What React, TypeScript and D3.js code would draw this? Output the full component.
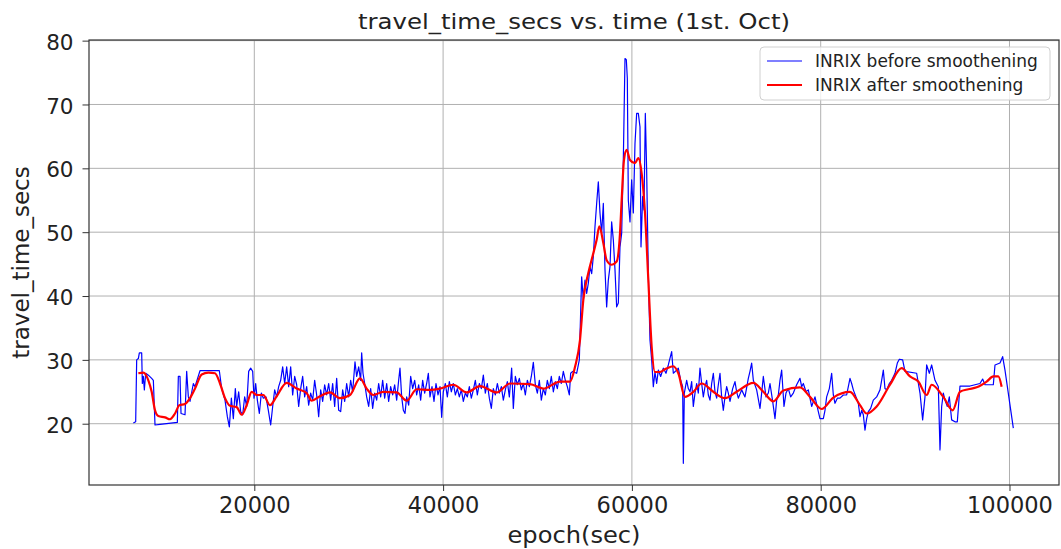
import React, { useEffect, useRef } from "react";
import * as d3 from "d3";

const width = 1061;
const height = 549;
const margin = { top: 40, right: 2, bottom: 64, left: 89 };

const xTicks = [20000, 40000, 60000, 80000, 100000];
const yTicks = [20, 30, 40, 50, 60, 70, 80];
const seriesNames = ["INRIX before smoothening", "INRIX after smoothening"];

// [epoch(sec), travel_time_secs]
const beforeSmoothing: [number, number][] = [
  [7186, 20.1], [7434, 20.3], [7540, 30.0], [7716, 30.2], [7822, 31.1], [8069, 31.1], [8140, 26.3], [8246, 27.4],
  [8352, 25.3], [8493, 27.9], [8775, 27.6], [9128, 27.1], [9305, 26.8], [9481, 19.8], [10011, 19.9], [11847, 20.2],
  [11953, 27.4], [12130, 27.4], [12236, 21.6], [12660, 21.4], [12836, 28.2], [13013, 24.2], [13189, 23.5], [13542, 26.3],
  [13719, 25.8], [14248, 28.3], [16296, 28.3], [16543, 25.5], [16897, 23.7], [17144, 21.1], [17356, 19.5], [17568, 24.0],
  [17780, 20.8], [17991, 25.5], [18132, 22.7], [18345, 25.0], [18556, 21.9], [18768, 21.4], [18980, 24.2], [19192, 22.7],
  [19404, 28.2], [19615, 28.7], [19827, 28.2], [19969, 24.0], [20145, 26.3], [20322, 23.7], [20534, 21.6], [20746, 24.8],
  [20958, 24.0], [21240, 24.2], [21487, 22.1], [21734, 19.8], [21946, 22.7], [22158, 25.3], [22370, 24.2], [22582, 25.8],
  [22794, 26.8], [23005, 28.9], [23217, 26.3], [23429, 28.9], [23641, 25.8], [23853, 28.9], [24064, 24.5], [24276, 27.4],
  [24488, 26.1], [24700, 22.7], [24912, 25.5], [25124, 27.4], [25336, 24.2], [25547, 25.8], [25759, 22.9], [25971, 24.8],
  [26183, 23.7], [26395, 26.8], [26607, 24.5], [26818, 21.1], [27030, 25.3], [27242, 23.5], [27454, 26.1], [27666, 24.5],
  [27878, 26.3], [28089, 23.7], [28302, 26.3], [28513, 22.7], [28725, 27.1], [28937, 22.1],
  [29149, 21.9], [29361, 25.3], [29573, 23.5], [29785, 26.3], [29996, 24.2], [30208, 26.8], [30420, 25.0], [30667, 29.7],
  [30844, 27.4], [31056, 28.9], [31267, 26.8], [31373, 31.1], [31515, 27.9], [31691, 26.3], [31903, 24.2], [32115, 22.7],
  [32327, 25.5], [32539, 22.4], [32751, 24.8], [32962, 23.7], [33174, 26.3], [33386, 24.2], [33598, 26.8], [33810, 24.0],
  [34022, 26.3], [34233, 23.5], [34445, 25.8], [34657, 24.5], [34869, 26.1], [35081, 23.7], [35293, 26.8], [35434, 28.7],
  [35611, 24.2], [35787, 22.1], [35964, 21.6], [36140, 24.2], [36352, 22.9], [36564, 27.4], [36776, 25.5], [36988, 26.8],
  [37200, 24.5], [37411, 26.1], [37623, 23.7], [37835, 26.8], [38047, 24.8], [38259, 26.3], [38436, 27.9], [38612, 24.2],
  [38824, 25.8], [39036, 23.5], [39248, 26.3], [39460, 24.5], [39671, 25.8], [39848, 21.0], [40024, 25.0], [40236, 26.3],
  [40448, 24.2], [40660, 26.6], [40872, 25.0], [41084, 26.3], [41296, 24.5], [41507, 25.5], [41719, 24.2], [41931, 25.3],
  [42143, 23.5], [42355, 24.8], [42567, 24.2], [42779, 25.8], [42990, 24.0], [43202, 25.3], [43414, 26.8], [43626, 24.5],
  [43838, 26.3], [44050, 25.5], [44262, 27.6], [44473, 24.8], [44685, 26.3], [44897, 24.0], [45109, 22.4], [45321, 25.5],
  [45533, 24.5], [45745, 26.3], [45956, 24.8], [46168, 25.8], [46380, 23.7], [46592, 25.3], [46804, 26.6], [47016, 24.2],
  [47263, 28.7], [47439, 22.4], [47651, 27.4], [47863, 26.1], [48075, 27.1], [48287, 25.3], [48499, 26.3], [48711, 24.5],
  [48922, 26.8], [49134, 25.8], [49346, 27.4], [49558, 29.6], [49770, 26.1], [49982, 24.8], [50194, 26.8], [50405, 23.7],
  [50617, 25.5], [50829, 24.5], [51041, 26.8], [51253, 25.5], [51465, 27.4], [51677, 25.0], [51889, 26.6], [52100, 25.5],
  [52312, 27.4], [52524, 26.3], [52736, 28.2], [52948, 26.8], [53159, 25.8], [53371, 24.5], [53513, 27.9], [53724, 28.2],
  [53795, 28.1], [54148, 27.9], [54431, 30.0], [54678, 43.0], [54854, 39.4], [55031, 42.5], [55207, 40.4], [55384, 42.0],
  [55561, 44.6], [55737, 43.5], [55914, 46.2], [56090, 50.9], [56267, 54.5], [56443, 57.9], [56620, 53.0], [56797, 49.8],
  [56973, 54.5], [57150, 44.1], [57326, 38.3], [57503, 42.5], [57679, 44.6], [57856, 51.6], [58032, 48.8], [58209, 44.1],
  [58385, 38.3], [58562, 38.9], [58738, 47.7], [58915, 49.8], [59092, 61.3], [59268, 77.2], [59410, 77.0], [59515, 74.1],
  [59621, 55.0], [59798, 51.6], [59974, 58.2], [60151, 53.0], [60327, 63.9], [60504, 68.6], [60680, 68.6], [60857, 66.5],
  [60963, 47.7], [61140, 55.6], [61281, 53.5], [61423, 68.6], [61563, 59.7], [61740, 43.5], [61916, 33.1], [62093, 30.0],
  [62270, 25.8], [62446, 28.1], [62623, 26.3], [62800, 28.4], [63046, 27.4], [63329, 28.7], [63611, 27.9], [63858, 29.2],
  [64212, 31.3], [64388, 27.9], [64741, 28.4],
  [64918, 28.7], [65165, 26.8], [65377, 25.8], [65448, 13.8], [65554, 24.8], [65801, 26.8], [65977, 25.5], [66154, 25.0],
  [66331, 26.6], [66507, 22.7], [66684, 24.8], [66860, 26.3], [67037, 24.8], [67213, 28.7], [67390, 26.3], [67566, 24.2],
  [67743, 25.8], [67919, 26.8], [68096, 24.5], [68273, 23.7], [68449, 26.3], [68626, 27.9], [68802, 25.0], [68979, 24.0],
  [69155, 26.1], [69332, 27.9], [69508, 24.2], [69685, 22.1], [69861, 24.2], [70038, 25.8], [70215, 24.8], [70391, 23.5],
  [70674, 25.5], [70921, 26.6], [71097, 25.0], [71274, 24.0], [71627, 25.3], [71980, 24.2], [72333, 27.1], [72510, 28.2],
  [72686, 29.5], [72863, 26.8], [73216, 25.3], [73569, 22.4], [73746, 24.8], [73922, 27.4], [74205, 24.2], [74452, 24.8],
  [74628, 26.3], [74911, 23.5], [75158, 20.8], [75335, 23.7], [75511, 24.5], [75688, 26.8], [75864, 28.4], [76111, 22.7],
  [76323, 24.8], [76570, 25.5], [76818, 24.2], [77100, 24.8], [77453, 26.1], [77806, 27.1], [77983, 25.8], [78159, 26.3],
  [78442, 25.0], [78689, 25.3], [79042, 22.7], [79395, 24.2], [79748, 21.9], [79925, 20.8], [80278, 20.8], [80455, 22.1],
  [80631, 24.2], [80914, 25.5], [81161, 27.9], [81337, 24.5], [81514, 23.2], [81761, 24.0], [82043, 24.0], [82396, 24.5],
  [82750, 24.5], [82926, 25.8], [83103, 27.1], [83279, 26.3], [83456, 25.3], [83738, 24.2], [83985, 23.2], [84162, 21.1],
  [84339, 22.1], [84515, 21.4], [84692, 19.0], [84868, 20.8], [85045, 21.9], [85292, 22.4], [85574, 23.7], [85928, 24.2],
  [86281, 25.3], [86457, 26.8], [86634, 28.4], [86811, 25.5], [86987, 25.3], [87270, 26.3], [87517, 26.8], [87870, 27.9],
  [88117, 29.5], [88329, 30.1], [88682, 30.0], [88929, 28.2], [90165, 27.9], [90518, 24.8], [90801, 20.6], [91048, 24.2],
  [91224, 29.2], [91507, 27.9], [91754, 29.2], [92107, 26.8], [92460, 25.8], [92637, 15.9], [92813, 22.7], [92990, 24.8],
  [93167, 23.7], [93414, 22.7], [93625, 24.2], [93872, 20.6], [94225, 20.3], [94473, 20.3], [94755, 25.9], [95815, 25.9],
  [96874, 26.3], [97156, 27.0], [97403, 26.1], [98286, 26.1], [98463, 29.2], [98992, 29.5], [99275, 30.5], [99522, 28.4],
  [100405, 19.3],
];

const afterSmoothing: [number, number][] = [
  [7716, 27.9], [8246, 28.0], [8775, 26.8], [9128, 25.0], [9481, 22.1], [9835, 21.2], [10541, 21.0], [11070, 20.7],
  [11600, 21.6], [12059, 22.9], [12660, 23.1], [13189, 24.0], [13719, 25.5], [14425, 27.7], [15131, 28.0], [15838, 27.9],
  [16367, 26.3], [16897, 24.0], [17426, 22.8], [18132, 22.6], [18662, 21.4], [19192, 22.9], [19722, 25.0], [20251, 24.5],
  [20958, 24.5], [21663, 22.9], [22370, 24.3], [23429, 26.4], [24488, 25.5], [25547, 24.8], [26077, 23.6], [26960, 24.3],
  [28019, 24.9], [29078, 24.0], [30138, 24.5], [31197, 27.1], [31903, 25.5], [32609, 24.5], [33669, 25.0], [35081, 24.9],
  [36140, 23.6], [37200, 25.4], [38612, 25.3], [39671, 25.5], [41084, 26.1], [42496, 24.9], [43909, 25.9], [45674, 24.9],
  [47086, 26.3], [49205, 26.2], [50617, 25.5], [52383, 26.6], [53442, 26.6], [53972, 28.9], [54501, 33.1], [54854, 39.4],
  [55384, 43.6], [55914, 46.7], [56267, 48.8], [56549, 50.9], [56973, 48.3], [57326, 45.6], [57856, 44.9], [58385, 45.4],
  [58738, 49.8], [58915, 55.0], [59162, 61.3], [59445, 62.9], [59798, 61.3], [60327, 60.8], [60680, 61.6], [61034, 59.2],
  [61387, 53.0], [61740, 42.5], [62093, 32.1], [62446, 28.1], [62976, 28.1], [63600, 28.6], [64388, 29.0], [64918, 27.9],
  [65624, 24.2], [66507, 25.0], [67390, 26.3], [68626, 25.0], [69861, 24.0], [71097, 25.0], [72863, 26.4], [73922, 25.0],
  [74981, 23.5], [76041, 25.2], [77806, 25.7], [78866, 24.2], [80101, 22.3], [81337, 24.1], [83103, 25.0], [84162, 22.9],
  [84868, 21.6], [85928, 22.7], [87340, 26.1], [88576, 28.7], [89459, 27.4], [90341, 26.6], [91224, 24.5], [91754, 26.1],
  [92990, 24.2], [93978, 22.1], [94755, 25.0], [95638, 25.4], [96521, 25.7], [97580, 26.6], [98286, 27.4], [98816, 27.4],
  [99169, 25.8],
];

const font = "'DejaVu Sans', sans-serif";

export default function App() {
  const ref = useRef<SVGSVGElement>(null);

  useEffect(() => {
    const svg = d3.select(ref.current);
    svg.selectAll("*").remove();

    const x = d3
      .scaleLinear()
      .domain([2489, 105244])
      .range([margin.left, width - margin.right]);
    const y = d3
      .scaleLinear()
      .domain([10.4, 80.1])
      .range([height - margin.bottom, margin.top]);

    const top = margin.top;
    const bottom = height - margin.bottom;
    const left = margin.left;
    const right = width - margin.right;

    svg
      .append("defs")
      .append("clipPath")
      .attr("id", "plot-clip")
      .append("rect")
      .attr("x", left)
      .attr("y", top)
      .attr("width", right - left)
      .attr("height", bottom - top);

    // grid
    const grid = svg.append("g").attr("stroke", "#b0b0b0").attr("stroke-width", 1);
    grid
      .selectAll(".vgrid")
      .data(xTicks)
      .join("line")
      .attr("x1", (d) => x(d))
      .attr("x2", (d) => x(d))
      .attr("y1", top)
      .attr("y2", bottom);
    grid
      .selectAll(".hgrid")
      .data(yTicks)
      .join("line")
      .attr("x1", left)
      .attr("x2", right)
      .attr("y1", (d) => y(d))
      .attr("y2", (d) => y(d));

    const line = d3
      .line<[number, number]>()
      .x((d) => x(d[0]))
      .y((d) => y(d[1]));

    const plot = svg.append("g").attr("clip-path", "url(#plot-clip)");
    plot
      .append("path")
      .datum(beforeSmoothing)
      .attr("fill", "none")
      .attr("stroke", "#0000ff")
      .attr("stroke-width", 1.2)
      .attr("stroke-linejoin", "round")
      .attr("d", line);
    plot
      .append("path")
      .datum(afterSmoothing)
      .attr("fill", "none")
      .attr("stroke", "#ff0000")
      .attr("stroke-width", 2.2)
      .attr("stroke-linejoin", "round")
      .attr("d", line.curve(d3.curveMonotoneX));

    // axes
    const xAxis = svg
      .append("g")
      .attr("transform", `translate(0,${bottom})`)
      .call(d3.axisBottom(x).tickValues(xTicks).tickFormat(d3.format("d")).tickSize(6).tickPadding(6));
    xAxis.select(".domain").remove();
    xAxis.selectAll("line").attr("stroke", "#333");
    xAxis.selectAll("text").attr("font-family", font).attr("font-size", 22.5).attr("fill", "#222");

    const yAxis = svg
      .append("g")
      .attr("transform", `translate(${left},0)`)
      .call(d3.axisLeft(y).tickValues(yTicks).tickSize(6.5).tickPadding(9));
    yAxis.select(".domain").remove();
    yAxis.selectAll("line").attr("stroke", "#333");
    yAxis
      .selectAll("text")
      .attr("font-family", font)
      .attr("font-size", 21.5)
      .attr("fill", "#222")
      .attr("dy", "0.4em");

    // spines
    svg
      .append("rect")
      .attr("x", left)
      .attr("y", top)
      .attr("width", right - left)
      .attr("height", bottom - top)
      .attr("fill", "none")
      .attr("stroke", "#333")
      .attr("stroke-width", 1.2);

    svg
      .append("text")
      .attr("x", (left + right) / 2)
      .attr("y", 28.5)
      .attr("text-anchor", "middle")
      .attr("font-family", font)
      .attr("font-size", 22)
      .attr("textLength", 432)
      .attr("lengthAdjust", "spacingAndGlyphs")
      .attr("fill", "#222")
      .text("travel_time_secs vs. time (1st. Oct)");

    svg
      .append("text")
      .attr("x", (left + right) / 2)
      .attr("y", 543)
      .attr("text-anchor", "middle")
      .attr("font-family", font)
      .attr("font-size", 23)
      .attr("textLength", 133)
      .attr("lengthAdjust", "spacingAndGlyphs")
      .attr("fill", "#222")
      .text("epoch(sec)");

    svg
      .append("text")
      .attr("transform", `translate(29,${(top + bottom) / 2}) rotate(-90)`)
      .attr("text-anchor", "middle")
      .attr("font-family", font)
      .attr("font-size", 23)
      .attr("fill", "#222")
      .text("travel_time_secs");

    // legend
    const legend = svg.append("g");
    legend
      .append("rect")
      .attr("x", 760)
      .attr("y", 47)
      .attr("width", 290)
      .attr("height", 53)
      .attr("rx", 4)
      .attr("fill", "#fff")
      .attr("fill-opacity", 0.8)
      .attr("stroke", "#d0d0d0");
    const colors = ["#0000ff", "#ff0000"];
    const widths = [1.2, 2.2];
    const rows = legend
      .selectAll(".row")
      .data(seriesNames)
      .join("g")
      .attr("transform", (_, i) => `translate(0,${61 + i * 24})`);
    rows
      .append("line")
      .attr("x1", 767)
      .attr("x2", 802)
      .attr("stroke", (_, i) => colors[i])
      .attr("stroke-width", (_, i) => widths[i]);
    rows
      .append("text")
      .attr("x", 815)
      .attr("dy", "0.36em")
      .attr("font-family", font)
      .attr("font-size", 17)
      .attr("fill", "#222")
      .text((d) => d);
  }, []);

  return (
    <svg
      ref={ref}
      width={width}
      height={height}
      style={{ position: "absolute", left: 0, top: 0, background: "#fff" }}
    />
  );
}
